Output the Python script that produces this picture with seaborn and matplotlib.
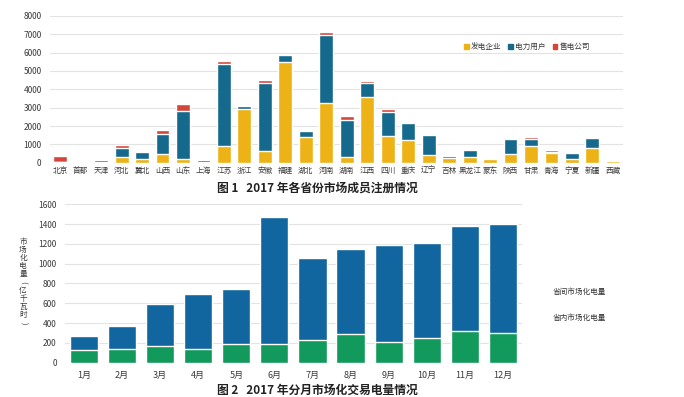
import pandas as pd
import numpy as np
import seaborn as sns
import matplotlib.pyplot as plt
from matplotlib.patches import Patch

sns.set_style("white")
plt.rcParams['font.family'] = ['Noto Sans CJK SC', 'DejaVu Sans']

# Figure 1 data: registered market members by province (2017)
provinces = ["北京", "首都", "天津", "河北", "冀北", "山西", "山东", "上海", "江苏", "浙江",
             "安徽", "福建", "湖北", "河南", "湖南", "江西", "四川", "重庆", "辽宁", "吉林",
             "黑龙江", "蒙东", "陕西", "甘肃", "青海", "宁夏", "新疆", "西藏"]
gen_firms = [30, 30, 30, 330, 200, 470, 220, 40, 900, 2950,
             650, 5490, 1420, 3250, 290, 3560, 1440, 1220, 420, 270,
             330, 180, 490, 930, 550, 180, 800, 70]
power_users = [20, 90, 100, 490, 400, 1110, 2580, 120, 4500, 150,
               3700, 380, 290, 3730, 2060, 800, 1340, 930, 1110, 90,
               360, 60, 820, 380, 50, 370, 530, 0]
sale_firms = [330, 0, 10, 130, 50, 180, 400, 10, 150, 50,
              180, 0, 0, 150, 180, 80, 130, 90, 20, 60,
              0, 90, 20, 110, 90, 10, 70, 0]

# Figure 2 data: monthly market-based electricity (100 GWh)
months = [f"{m}月" for m in range(1, 13)]
total_energy = [273, 368, 597, 691, 749, 1467, 1056, 1150, 1187, 1211, 1383, 1400]
intra_energy = [128, 135, 169, 142, 192, 192, 233, 287, 209, 250, 324, 297]

c_gen, c_user, c_sale = "#EDB216", "#14698C", "#D5463A"
c_inter, c_intra = "#12669F", "#129A5C"

df1 = pd.DataFrame({"省份": provinces, "发电企业": gen_firms,
                    "电力用户": power_users, "售电公司": sale_firms})
df1["l2"] = df1["发电企业"] + df1["电力用户"]
df1["l3"] = df1["l2"] + df1["售电公司"]

df2 = pd.DataFrame({"月份": months, "total": total_energy, "intra": intra_energy})

fig = plt.figure(figsize=(6.84, 3.97), dpi=100)
tick_c = "#3a3a3a"
grid_c = "#E3E3E3"

# ---- Figure 1 ----
ax1 = fig.add_axes([0.073, 0.590, 0.838, 0.370])
for col, c in [("l3", c_sale), ("l2", c_user), ("发电企业", c_gen)]:
    sns.barplot(data=df1, x="省份", y=col, color=c, width=0.68,
                saturation=1, ax=ax1, zorder=3)
ax1.set_ylim(0, 8000)
ax1.set_xlim(-0.5, len(provinces) - 0.5)
ax1.set_yticks(range(0, 8001, 1000))
ax1.yaxis.grid(True, color=grid_c, lw=0.8, zorder=0)
ax1.set_xlabel("")
ax1.set_ylabel("")
ax1.tick_params(axis="x", length=0, labelsize=5.5, colors=tick_c, pad=3)
ax1.tick_params(axis="y", length=0, labelsize=6, colors=tick_c, pad=6)
for s in ax1.spines.values():
    s.set_visible(False)
handles = [Patch(color=c_gen, label="发电企业"), Patch(color=c_user, label="电力用户"),
           Patch(color=c_sale, label="售电公司")]
fig.legend(handles=handles, loc="center", bbox_to_anchor=(527 / 684, 1 - 47 / 397),
           ncol=3, frameon=False, fontsize=5.5, handlelength=0.6, handleheight=0.6,
           handletextpad=0.3, columnspacing=0.9, labelcolor=tick_c)
fig.text(317 / 684, 1 - 188 / 397, "图 1   2017 年各省份市场成员注册情况",
         ha="center", va="center", fontsize=8.5, fontweight="bold", color="#222222")

# ---- Figure 2 ----
ax2 = fig.add_axes([0.095, 0.0864, 0.668, 0.399])
sns.barplot(data=df2, x="月份", y="total", color=c_inter, width=0.74,
            saturation=1, ax=ax2, zorder=3)
sns.barplot(data=df2, x="月份", y="intra", color=c_intra, width=0.74,
            saturation=1, ax=ax2, zorder=3)
ax2.set_ylim(0, 1600)
ax2.set_xlim(-0.5, len(months) - 0.5)
ax2.set_yticks(range(0, 1601, 200))
ax2.yaxis.grid(True, color=grid_c, lw=0.8, zorder=0)
ax2.set_xlabel("")
ax2.set_ylabel("")
ax2.tick_params(axis="x", length=0, labelsize=6.5, colors=tick_c, pad=6)
ax2.tick_params(axis="y", length=0, labelsize=6, colors=tick_c, pad=6)
for s in ax2.spines.values():
    s.set_visible(False)

# vertical (upright) y-axis title, parentheses turned like vertical typesetting
ylabel_chars = list("市场化电量(亿千瓦时)")
y0, step = 242, 8.1
for i, ch in enumerate(ylabel_chars):
    rot = -90 if ch in "()" else 0
    fig.text(23 / 684, 1 - (y0 + i * step) / 397, ch, ha="center", va="center",
             fontsize=5.5, color=tick_c, rotation=rot)

fig.text(553 / 684, 1 - 292 / 397, "省间市场化电量", ha="left", va="center",
         fontsize=5.5, color="#333333")
fig.text(553 / 684, 1 - 318 / 397, "省内市场化电量", ha="left", va="center",
         fontsize=5.5, color="#333333")
fig.text(317 / 684, 1 - 390 / 397, "图 2   2017 年分月市场化交易电量情况",
         ha="center", va="center", fontsize=8.5, fontweight="bold", color="#222222")

fig.savefig("out.png", dpi=100, facecolor="white")
